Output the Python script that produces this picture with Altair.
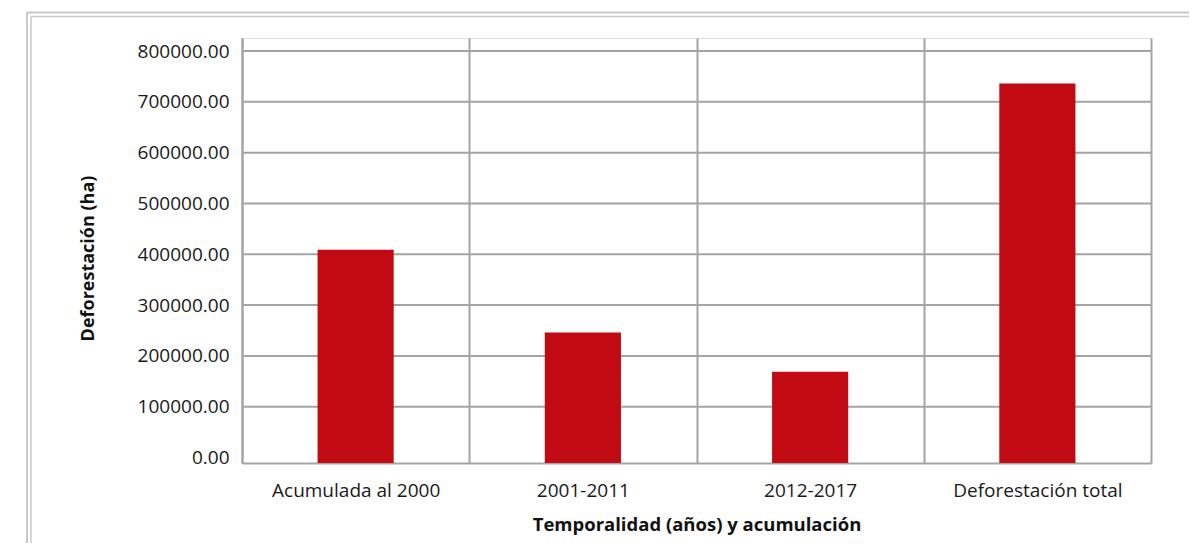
import altair as alt
import pandas as pd

categories = ["Acumulada al 2000", "2001-2011", "2012-2017", "Deforestación total"]
values = [409000, 246000, 169000, 736000]
y_ticks = [0, 100000, 200000, 300000, 400000, 500000, 600000, 700000, 800000]
grid_ticks = y_ticks[1:]

Y_MIN = -10800
Y_MAX = 825600

FONT = "Open Sans"
GRID = "#a4a4a4"
FRAME = "#c9c9c9"
BAR = "#c20a13"

W, H = 909, 425

bars_df = pd.DataFrame({"cat": categories, "val": values, "base": [Y_MIN] * len(values)})
grid_df = pd.DataFrame({"v": grid_ticks})
one = pd.DataFrame({"a": [0]})

yscale = alt.Scale(domain=[Y_MIN, Y_MAX], nice=False, zero=False)

bars = alt.Chart(bars_df).mark_bar(color=BAR, width=alt.RelativeBandSize(0.335)).encode(
    x=alt.X(
        "cat:N",
        sort=categories,
        scale=alt.Scale(paddingInner=0, paddingOuter=0),
        axis=alt.Axis(
            title="Temporalidad (años) y acumulación",
            titleFont=FONT, titleFontSize=18.5, titleFontWeight="bold", titleColor="#111111",
            titleX=W / 2, titleY=61, titleBaseline="middle", titleAlign="center",
            labelFont=FONT, labelFontSize=19, labelColor="#1a1a1a", labelAngle=0,
            labelBaseline="middle", labelPadding=27,
            ticks=False, tickSize=0, tickBand="extent",
            grid=True, gridColor=GRID, gridWidth=2,
            domain=True, domainColor=GRID, domainWidth=2,
        ),
    ),
    y=alt.Y(
        "val:Q",
        scale=yscale,
        axis=alt.Axis(
            title="Deforestación (ha)",
            titleFont=FONT, titleFontSize=18, titleFontWeight="bold", titleColor="#111111",
            titleAngle=-90, titleX=-154, titleY=220, titleBaseline="middle", titleAlign="center",
            values=y_ticks, format=".2f",
            labelFont=FONT, labelFontSize=19, labelColor="#1a1a1a", labelPadding=13,
            ticks=False, tickSize=0, grid=False,
            domain=True, domainColor=GRID, domainWidth=2,
        ),
    ),
    y2="base:Q",
)

grid = alt.Chart(grid_df).mark_rule(color=GRID, strokeWidth=2).encode(
    y=alt.Y("v:Q", scale=yscale)
)

frame_top1 = alt.Chart(one).mark_rule(color=FRAME, strokeWidth=2).encode(
    x=alt.value(-215), x2=alt.value(1000), y=alt.value(-25.5)
)
frame_top2 = alt.Chart(one).mark_rule(color=FRAME, strokeWidth=1.5).encode(
    x=alt.value(-211), x2=alt.value(1000), y=alt.value(-21.5)
)
frame_left1 = alt.Chart(one).mark_rule(color=FRAME, strokeWidth=2).encode(
    x=alt.value(-215), y=alt.value(-25.5), y2=alt.value(700)
)
frame_left2 = alt.Chart(one).mark_rule(color=FRAME, strokeWidth=1.5).encode(
    x=alt.value(-211), y=alt.value(-21.5), y2=alt.value(700)
)

chart = alt.layer(grid, bars, frame_top1, frame_top2, frame_left1, frame_left2).properties(
    width=W,
    height=H,
    autosize=alt.AutoSizeParams(type="none"),
    padding={"left": 234, "top": 30, "right": 38, "bottom": 80},
).configure_view(stroke=None).configure(background="white")

chart.save("out.html", embed_options={"renderer": "svg", "actions": False})
